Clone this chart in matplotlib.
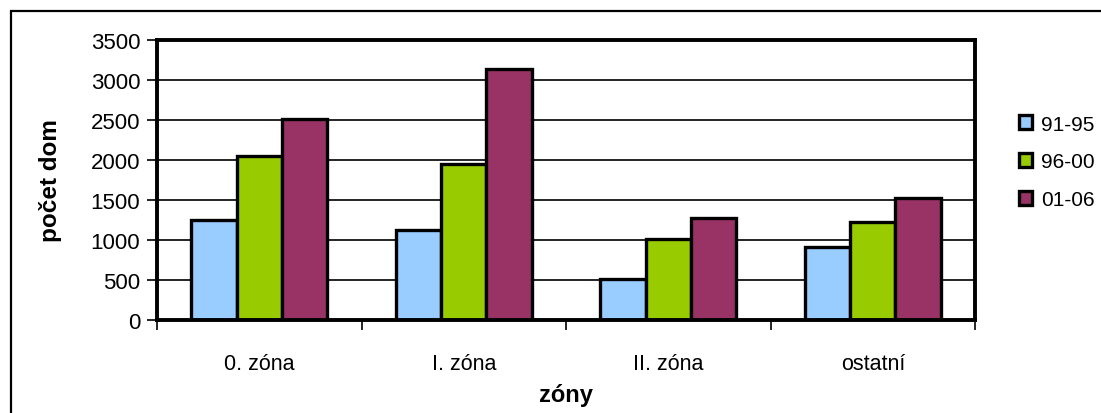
import matplotlib.pyplot as plt
import numpy as np
from matplotlib.patches import Rectangle

plt.rcParams['font.family'] = ['Liberation Sans', 'DejaVu Sans']

categories = ['0. zóna', 'I. zóna', 'II. zóna', 'ostatní']
series_names = ['91-95', '96-00', '01-06']
v_91_95 = [1250, 1120, 510, 910]
v_96_00 = [2050, 1950, 1010, 1230]
v_01_06 = [2510, 3140, 1280, 1520]
colors = ['#99ccff', '#99cc00', '#993366']

fig = plt.figure(figsize=(11.01, 4.14), dpi=100)
ax = fig.add_axes([157 / 1101, 93 / 414, 818 / 1101, 280 / 414])

# outer chart frame (cropped on right and bottom)
fig.patches.append(Rectangle((11 / 1101, -0.1), 1.2, (414 - 12) / 414 + 0.1,
                             transform=fig.transFigure, fill=False,
                             edgecolor='black', linewidth=1.6))

x = np.arange(len(categories))
w = 1 / 4.5
for i, (vals, name) in enumerate(zip([v_91_95, v_96_00, v_01_06], series_names)):
    ax.bar(x + (i - 1) * w, vals, width=w, color=colors[i], edgecolor='black',
           linewidth=2.4, label=name, zorder=3)

ax.set_xlim(-0.5, len(categories) - 0.5)
ax.set_ylim(0, 3500)
ax.set_yticks(range(0, 3501, 500))
ax.yaxis.grid(True, color='black', linewidth=1.2, zorder=0)
ax.set_axisbelow(True)

ax.set_xticks(np.arange(len(categories) + 1) - 0.5)
ax.set_xticklabels([])
ax.set_xticks(x, minor=True)
ax.set_xticklabels(categories, minor=True, fontsize=15.5)
ax.tick_params(axis='x', which='minor', length=0, pad=24)
ax.tick_params(axis='x', which='major', length=7, width=1.2, direction='out')
ax.tick_params(axis='y', length=7, width=1.2, direction='out', labelsize=16, pad=5)

for s in ax.spines.values():
    s.set_linewidth(2.8)
    s.set_zorder(4)

ax.set_ylabel('počet dom', fontsize=17.5, fontweight='bold', labelpad=21)
ax.set_xlabel('zóny', fontsize=17, fontweight='bold', labelpad=6)

ax.legend(loc='center left', bbox_to_anchor=(1000 / 1101, 1 - 163 / 414),
          bbox_transform=fig.transFigure, frameon=False, fontsize=15,
          handlelength=0.65, handleheight=0.65, handletextpad=0.4,
          labelspacing=0.9)

fig.savefig('out.png', dpi=100)
